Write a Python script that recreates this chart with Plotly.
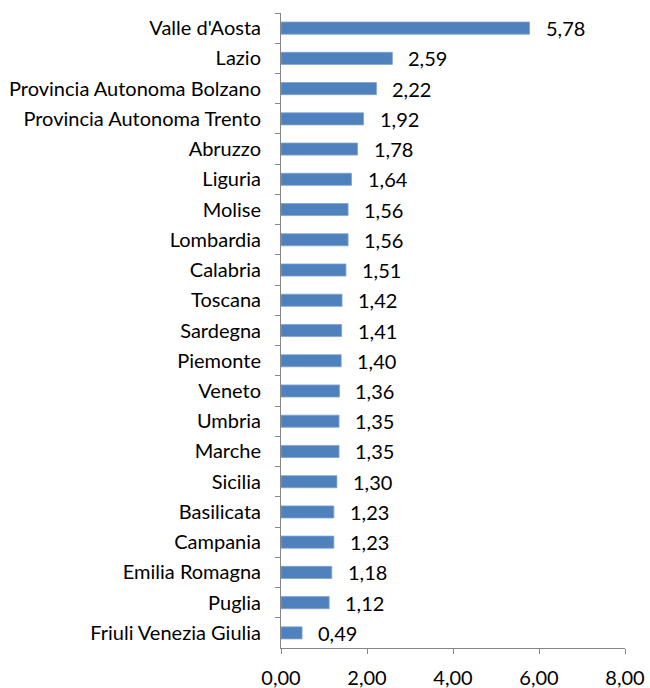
import plotly.graph_objects as go

regions = ["Valle d'Aosta", "Lazio", "Provincia Autonoma Bolzano", "Provincia Autonoma Trento",
           "Abruzzo", "Liguria", "Molise", "Lombardia", "Calabria", "Toscana", "Sardegna",
           "Piemonte", "Veneto", "Umbria", "Marche", "Sicilia", "Basilicata", "Campania",
           "Emilia Romagna", "Puglia", "Friuli Venezia Giulia"]
values = [5.78, 2.59, 2.22, 1.92, 1.78, 1.64, 1.56, 1.56, 1.51, 1.42, 1.41,
          1.40, 1.36, 1.35, 1.35, 1.30, 1.23, 1.23, 1.18, 1.12, 0.49]
tick_vals = [0, 2, 4, 6, 8]
tick_text = ["0,00", "2,00", "4,00", "6,00", "8,00"]

def fmt(v):
    return f"{v:.2f}".replace(".", ",")

FONT = "Lato, sans-serif"
FS = 20

fig = go.Figure()
fig.add_trace(go.Bar(
    y=regions, x=values, orientation="h",
    marker=dict(color="#4F81BD", line=dict(color="#7FA3D0", width=0.8)),
    hoverinfo="skip",
))
for r, v in zip(regions, values):
    fig.add_annotation(x=v, y=r, text=fmt(v), showarrow=False, xanchor="left",
                       xshift=14, font=dict(family=FONT, size=FS, color="#000000"))

fig.update_layout(
    width=650, height=688,
    margin=dict(l=281, r=25, t=13, b=40, autoexpand=False),
    plot_bgcolor="white", paper_bgcolor="white",
    bargap=0.6, showlegend=False,
    font=dict(family=FONT, size=FS, color="#000000"),
)
fig.update_xaxes(range=[0, 8], tickvals=tick_vals, ticktext=tick_text, automargin=False,
                 showgrid=False, zeroline=False, showline=True, linecolor="#868686",
                 linewidth=1, ticks="outside", ticklen=5, tickcolor="#868686",
                 ticklabelstandoff=7,
                 tickfont=dict(family=FONT, size=FS))
fig.update_yaxes(type="category", categoryorder="array", categoryarray=regions,
                 autorange="reversed", showgrid=False, zeroline=False, showline=True,
                 linecolor="#868686", linewidth=1, ticks="outside", ticklen=5, automargin=False,
                 tickcolor="#868686", tickson="boundaries", ticklabelstandoff=15,
                 tickfont=dict(family=FONT, size=FS))

fig.write_html("out.html", config={"displayModeBar": False},
               post_script="document.body.style.margin='0';document.body.style.overflow='hidden';")
